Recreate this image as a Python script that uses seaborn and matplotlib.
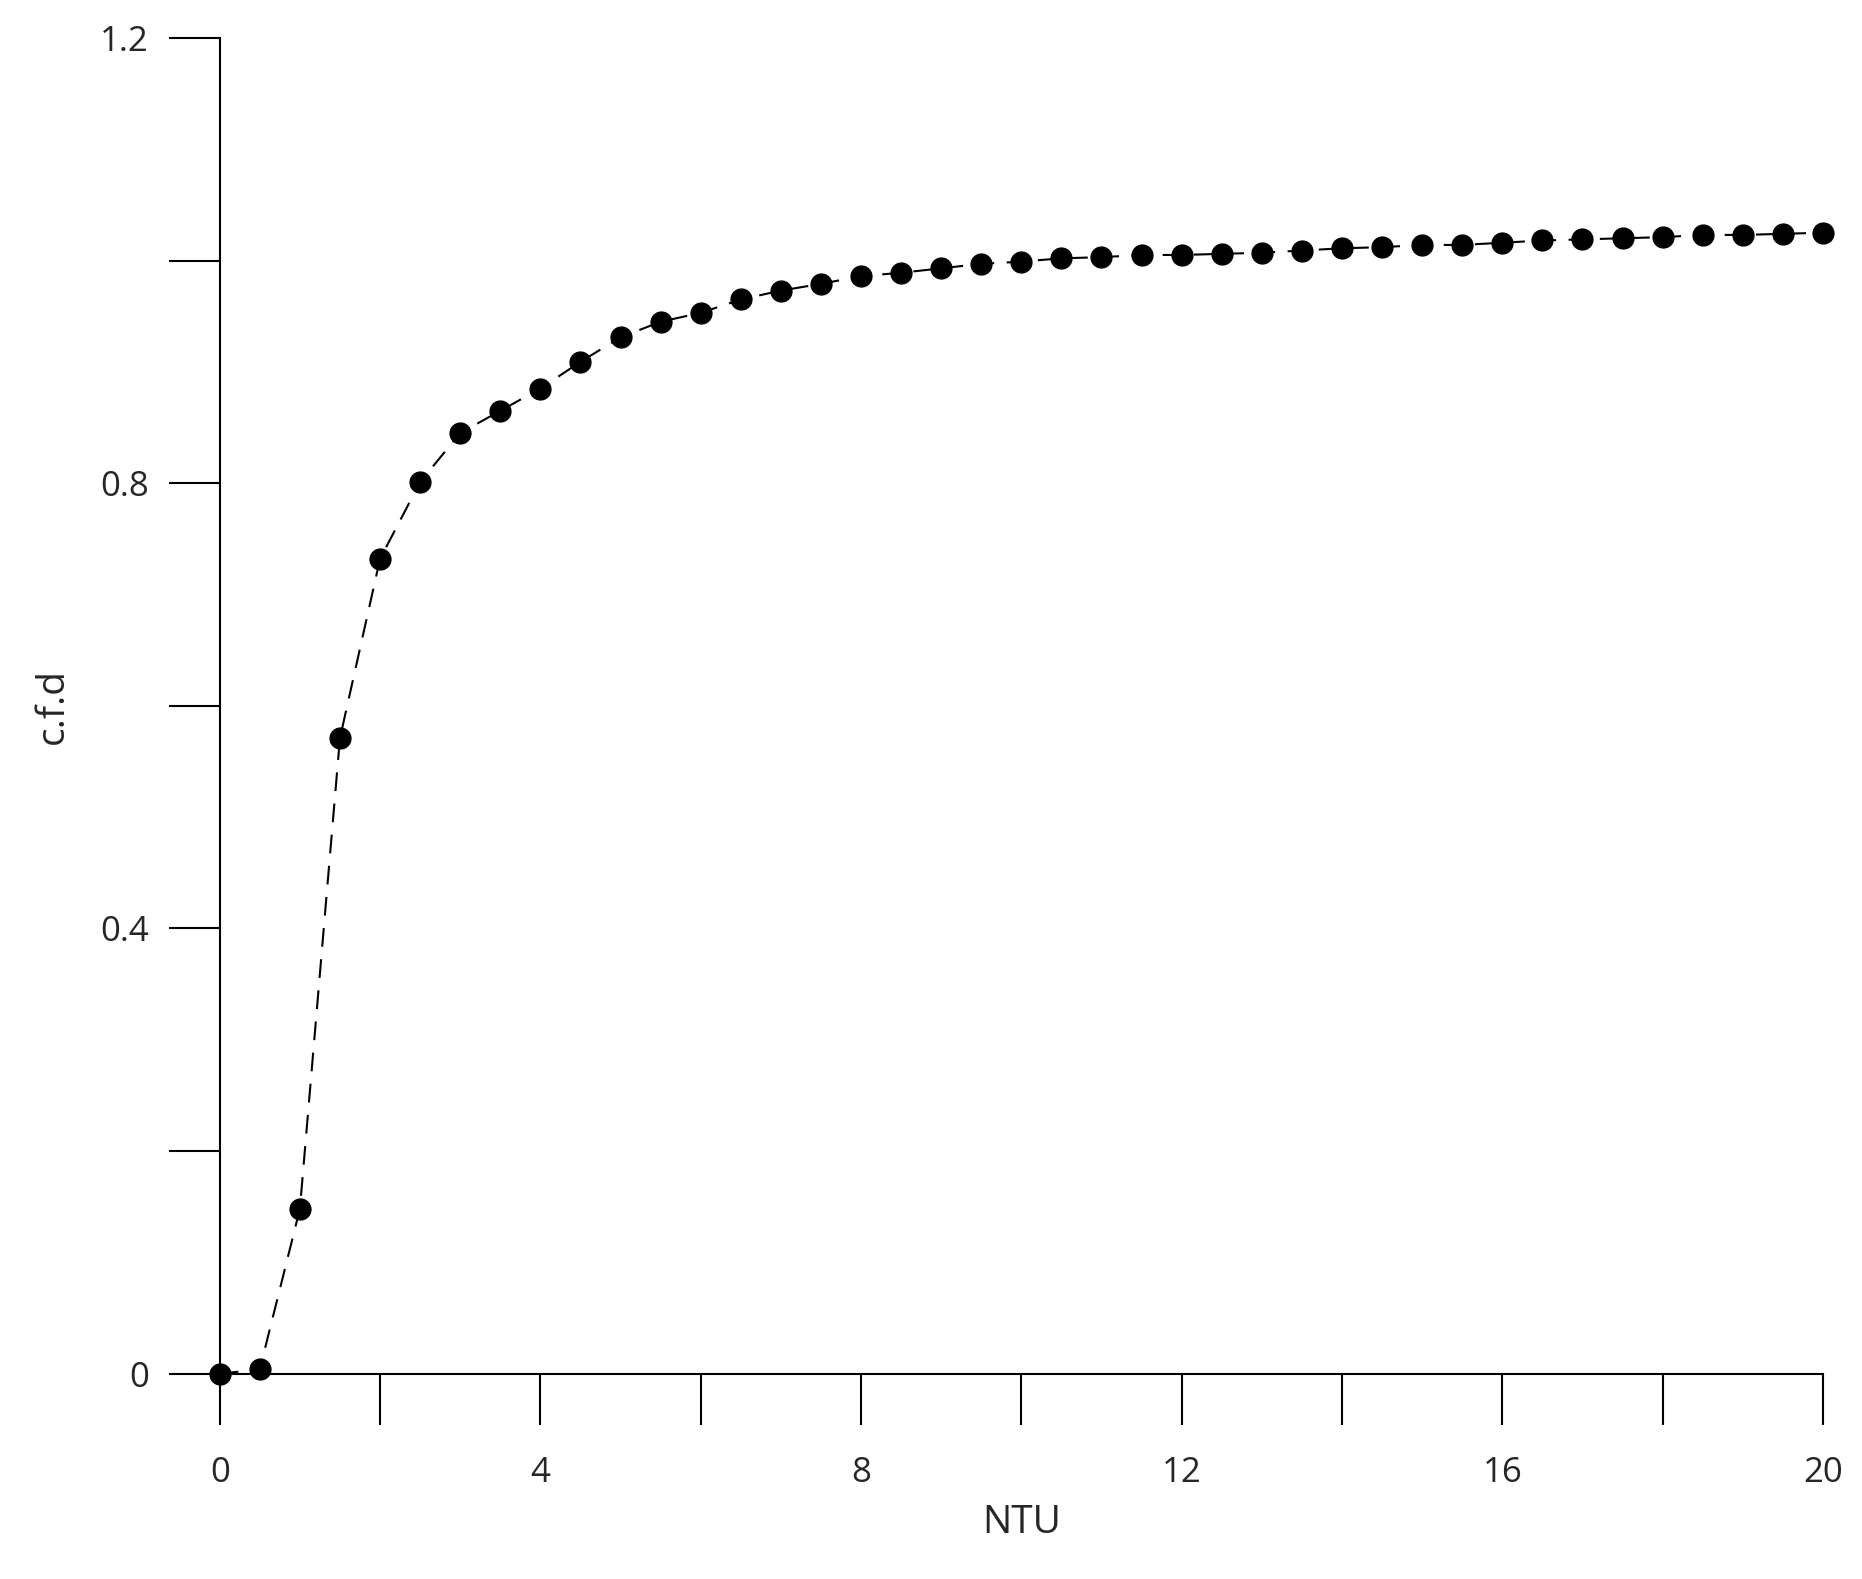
import matplotlib
matplotlib.use("Agg")
import matplotlib.pyplot as plt
import seaborn as sns
import numpy as np
import pandas as pd

ntu = [0,0.5,1,1.5,2,2.5,3,3.5,4,4.5,5,5.5,6,6.5,7,7.5,8,8.5,9,9.5,10,
       10.5,11,11.5,12,12.5,13,13.5,14,14.5,15,15.5,16,16.5,17,17.5,18,18.5,19,19.5,20]
cfd = [0,0.004,0.148,0.571,0.732,0.801,0.845,0.865,0.885,0.909,0.931,0.945,0.953,0.965,0.973,0.979,0.986,0.989,0.993,0.997,0.999,
       1.002,1.003,1.005,1.005,1.006,1.007,1.009,1.011,1.012,1.014,1.014,1.016,1.018,1.019,1.020,1.021,1.023,1.023,1.024,1.025]
xticks = [0, 4, 8, 12, 16, 20]
xtick_labels = ["0", "4", "8", "12", "16", "20"]
yticks = [0, 0.4, 0.8, 1.2]
ytick_labels = ["0", "0.4", "0.8", "1.2"]
df = pd.DataFrame({"NTU": ntu, "cfd": cfd})

sns.set_style("white")
plt.rcParams['font.family'] = ['Open Sans', 'DejaVu Sans']
fig = plt.figure(figsize=(18.62, 15.79), dpi=100)
ax = fig.add_axes([0.118, 0.130, 0.861, 0.846])
sns.lineplot(data=df, x="NTU", y="cfd", ax=ax, color="black", linestyle=(0, (9, 6)), linewidth=1.5)
ax.plot(ntu, cfd, 'o', color='black', markersize=15, clip_on=False, zorder=5)
ax.set_xlim(0, 20); ax.set_ylim(0, 1.2)
ax.set_xticks(xticks, xtick_labels)
ax.set_xticks(np.arange(2, 20, 4), minor=True)
ax.set_yticks(yticks, ytick_labels)
ax.set_yticks([0.2, 0.6, 1.0], minor=True)
for s in ["top", "right"]:
    ax.spines[s].set_visible(False)
for s in ["left", "bottom"]:
    ax.spines[s].set_color("black"); ax.spines[s].set_linewidth(1.5)
ax.tick_params(which="both", direction="out", length=37, width=1.5, color="black", labelsize=25)
ax.tick_params(axis="x", which="both", bottom=True, pad=22)
ax.tick_params(axis="y", which="both", left=True, pad=14)
ax.set_xlabel("NTU", fontsize=28, labelpad=10)
ax.set_ylabel("c.f.d", fontsize=28, labelpad=20)
fig.savefig("out.png", dpi=100)
